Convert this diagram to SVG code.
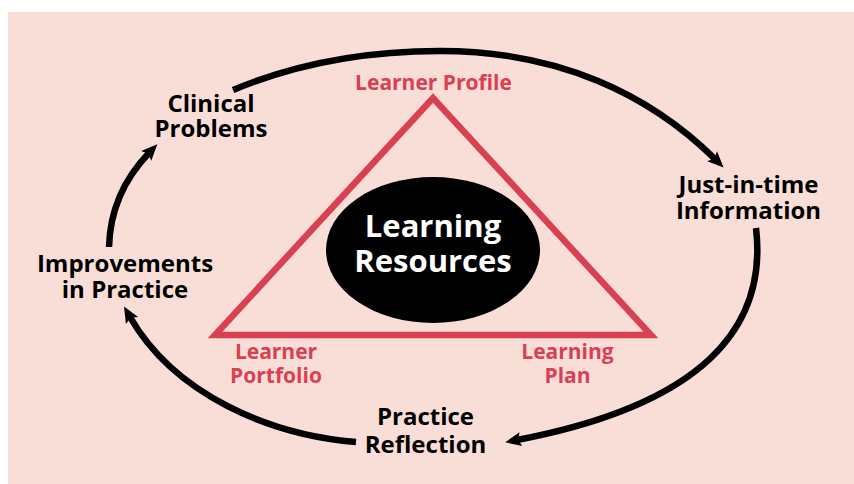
<svg xmlns="http://www.w3.org/2000/svg" width="854" height="484" viewBox="0 0 854 484">
  <style>
    .lbl { font-family: "Open Sans", "Liberation Sans", sans-serif; font-weight: 700; text-anchor: middle; }
    .step { font-size: 24px; fill: #000; }
    .corner { font-size: 21px; fill: #d94052; }
    .core { font-size: 31px; fill: #fff; }
    .flow { fill: none; stroke: #000; stroke-width: 6.5; }
  </style>
  <defs>
    <marker id="head" markerUnits="userSpaceOnUse" markerWidth="20" markerHeight="20" refX="4" refY="0" orient="auto" overflow="visible">
      <path d="M0,-7 L16,0 L0,7 L3,0 z" fill="#000"/>
    </marker>
  </defs>

  <!-- background panel -->
  <rect x="8" y="12" width="846" height="472" fill="#f9ded8"/>

  <!-- central triangle of learner components -->
  <g id="triangle">
    <polygon points="433,98 215,335 651,335" fill="none" stroke="#d94052" stroke-width="6.5" stroke-linejoin="miter"/>
  </g>

  <g id="learning-resources">
    <ellipse cx="433" cy="250" rx="107" ry="73" fill="#000"/>
    <text class="lbl core" x="433" y="237">Learning</text>
    <text class="lbl core" x="433" y="272">Resources</text>
  </g>

  <g id="learner-profile">
    <text class="lbl corner" x="433.5" y="90">Learner Profile</text>
  </g>
  <g id="learner-portfolio">
    <text class="lbl corner" x="276" y="359">Learner</text>
    <text class="lbl corner" x="276" y="383">Portfolio</text>
  </g>
  <g id="learning-plan">
    <text class="lbl corner" x="567.5" y="359">Learning</text>
    <text class="lbl corner" x="567.5" y="383">Plan</text>
  </g>

  <!-- cycle stages -->
  <g id="clinical-problems">
    <text class="lbl step" x="211" y="112">Clinical</text>
    <text class="lbl step" x="211" y="137">Problems</text>
  </g>
  <g id="just-in-time-information">
    <text class="lbl step" x="748.5" y="193">Just-in-time</text>
    <text class="lbl step" x="748.5" y="219">Information</text>
  </g>
  <g id="practice-reflection">
    <text class="lbl step" x="425.5" y="425">Practice</text>
    <text class="lbl step" x="425.5" y="453">Reflection</text>
  </g>
  <g id="improvements-in-practice">
    <text class="lbl step" x="125" y="272">Improvements</text>
    <text class="lbl step" x="125" y="298">in Practice</text>
  </g>

  <!-- cycle connectors -->
  <g id="connectors">
    <path class="flow" marker-end="url(#head)" d="M233,90 C300,62 370,51 440,51 C560,51 650,95 715,159"/>
    <path class="flow" marker-end="url(#head)" d="M756,228 C768,330 700,405 517,440"/>
    <path class="flow" marker-end="url(#head)" d="M356,442 C270,435 175,395 130,317"/>
    <path class="flow" marker-end="url(#head)" d="M109,247 C110,210 125,178 149,153"/>
  </g>
</svg>
